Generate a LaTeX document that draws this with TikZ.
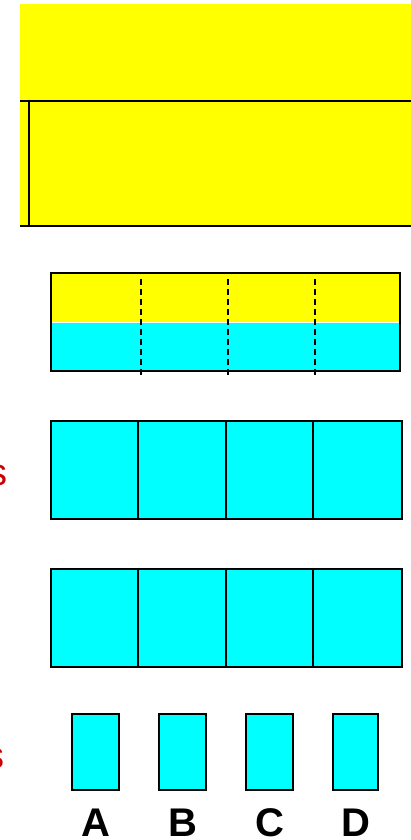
\documentclass[tikz,border=0pt]{standalone}
\usepackage{fontspec}
\setmainfont{Liberation Sans}
\definecolor{ylw}{RGB}{255,255,0}
\definecolor{cyn}{RGB}{0,255,255}
\definecolor{redtxt}{RGB}{204,0,0}
\begin{document}
\begin{tikzpicture}[x=1pt,y=-1pt,
  edge/.style={draw=black,line width=2.2pt},
  cell/.style={fill=cyn,draw=black,line width=2.2pt},
  lbl/.style={font=\fontsize{40}{40}\selectfont\bfseries,anchor=base,inner sep=0pt},
  redlbl/.style={font=\fontsize{38}{38}\selectfont,text=redtxt,anchor=base east,inner sep=0pt}]
\useasboundingbox (0,0) rectangle (410,840);
% top yellow area
\fill[ylw] (20,4) rectangle (412,227);
\draw[edge] (20,101) -- (412,101);
\draw[edge] (20,226) -- (412,226);
\draw[edge] (29,101) -- (29,226);
% row 2
\fill[ylw] (51,273) rectangle (400,322);
\fill[cyn] (51,323) rectangle (400,371);
\draw[white,line width=1pt] (51,322.5) -- (400,322.5);
\draw[edge] (51,273) rectangle (400,371);
\foreach \xx in {141,228,315}
  \draw[black,line width=2.5pt,dash pattern=on 6pt off 4pt] (\xx,279) -- (\xx,376);
% row 3
\foreach \a/\b in {51/138,138/226,226/313,313/402}
  \draw[cell] (\a,421) rectangle (\b,519);
% row 4
\foreach \a/\b in {51/138,138/226,226/313,313/402}
  \draw[cell] (\a,569) rectangle (\b,667);
% row 5
\foreach \a/\b/\t in {72/119/A,159/206/B,246/293/C,333/378/D} {
  \draw[cell] (\a,714) rectangle (\b,790);
  \node[lbl] at ({(\a+\b)/2},836) {\t};
}
% partial red text at left edge
\node[redlbl] at (8,485) {s};
\node[redlbl] at (5,768) {s};
\end{tikzpicture}
\end{document}
